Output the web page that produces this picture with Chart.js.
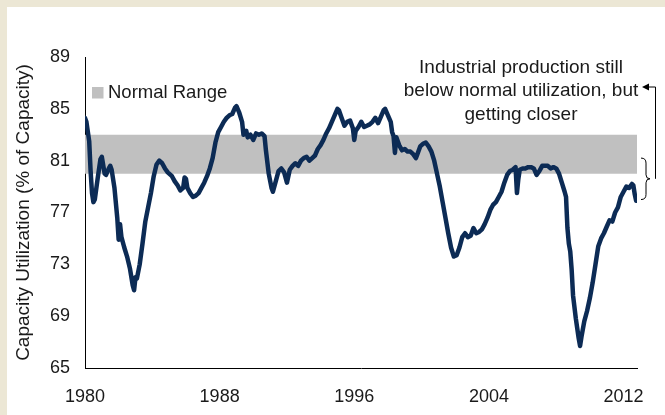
<!DOCTYPE html>
<html><head><meta charset="utf-8">
<script src="https://cdn.jsdelivr.net/npm/chart.js@4"></script>
<style>html,body{margin:0;padding:0;background:#fff;}canvas{display:block;}</style>
</head><body>
<canvas id="c" width="665" height="415"></canvas>
<script>
// ---- Data ----
const periods = [
 '1980-01','1980-02','1980-04','1980-05','1980-06','1980-07','1980-08','1980-10','1980-12',
 '1981-01','1981-03','1981-04','1981-06','1981-07','1981-08','1981-10','1981-12',
 '1982-01','1982-02','1982-03','1982-05','1982-07','1982-09','1982-11','1982-12',
 '1983-01','1983-02','1983-04','1983-06','1983-08','1983-10','1983-12',
 '1984-02','1984-04','1984-06','1984-08','1984-10','1984-12',
 '1985-03','1985-05','1985-07','1985-09','1985-11','1985-12',
 '1986-01','1986-02','1986-04','1986-06','1986-08','1986-10','1986-12',
 '1987-02','1987-04','1987-06','1987-08','1987-10','1987-12',
 '1988-02','1988-04','1988-06','1988-08','1988-10','1988-12',
 '1989-01','1989-03','1989-05','1989-06','1989-08','1989-09','1989-11',
 '1990-01','1990-03','1990-05','1990-07','1990-09','1990-10','1990-12',
 '1991-02','1991-03','1991-05','1991-07','1991-09','1991-11',
 '1992-01','1992-03','1992-05','1992-07','1992-09','1992-11',
 '1993-01','1993-03','1993-05','1993-07','1993-09','1993-11',
 '1994-01','1994-03','1994-05','1994-07','1994-09','1994-11',
 '1995-01','1995-02','1995-04','1995-06','1995-08','1995-10','1995-12',
 '1996-01','1996-02','1996-04','1996-06','1996-08','1996-10','1996-12',
 '1997-02','1997-04','1997-06','1997-08','1997-10','1997-11',
 '1998-01','1998-03','1998-04','1998-05','1998-06','1998-07','1998-09','1998-11',
 '1999-01','1999-03','1999-05','1999-07','1999-09','1999-10','1999-12',
 '2000-02','2000-04','2000-06','2000-08','2000-10','2000-12',
 '2001-02','2001-04','2001-06','2001-08','2001-10','2001-12',
 '2002-02','2002-04','2002-06','2002-08','2002-10','2002-12',
 '2003-02','2003-04','2003-06','2003-08','2003-10','2003-12',
 '2004-02','2004-04','2004-06','2004-08','2004-10','2004-12',
 '2005-02','2005-04','2005-06','2005-08','2005-09','2005-10','2005-11',
 '2006-01','2006-03','2006-05','2006-07','2006-09','2006-11',
 '2007-01','2007-03','2007-05','2007-07','2007-09','2007-11',
 '2008-01','2008-03','2008-05','2008-07','2008-08','2008-09','2008-10','2008-11','2008-12',
 '2009-01','2009-03','2009-05','2009-06','2009-07','2009-09','2009-11',
 '2010-01','2010-03','2010-05','2010-07','2010-09','2010-11',
 '2011-01','2011-03','2011-05','2011-07','2011-09','2011-11',
 '2012-01','2012-03','2012-05','2012-07','2012-08','2012-09','2012-10'
];
const utilization = [
 84.3,84.0,82.5,80.2,78.5,77.8,78.0,79.6,81.1,
 81.3,80.0,79.9,80.4,80.6,80.3,78.9,76.6,
 74.9,76.1,75.1,74.3,73.6,72.7,71.4,71.0,
 72.0,71.9,73.0,74.6,76.3,77.4,78.5,
 79.8,80.7,81.0,80.8,80.4,80.1,
 79.8,79.4,79.1,78.7,78.9,79.7,
 79.6,78.9,78.5,78.2,78.3,78.5,78.9,
 79.3,79.8,80.4,81.2,82.4,83.2,
 83.6,84.0,84.3,84.5,84.6,85.1,
 85.2,84.7,84.0,83.0,83.3,82.8,83.0,
 82.6,83.1,83.0,83.1,82.9,81.8,80.0,
 78.9,78.6,79.4,80.2,80.4,80.1,
 79.3,80.3,80.6,80.8,80.6,81.0,
 81.2,81.3,81.0,81.2,81.4,81.9,
 82.2,82.6,83.1,83.5,84.0,84.5,
 85.0,84.9,84.3,83.7,84.0,84.1,83.5,
 82.6,83.3,83.6,84.0,83.6,83.7,83.8,
 84.0,84.3,83.9,84.4,84.9,85.0,
 84.5,84.0,83.2,82.9,81.6,82.8,82.2,81.8,
 81.9,81.7,81.7,81.5,81.2,81.5,82.1,
 82.3,82.4,82.1,81.7,81.0,80.0,
 79.0,77.8,76.6,75.4,74.3,73.6,
 73.7,74.3,75.1,75.4,75.1,75.2,
 75.8,75.4,75.5,75.7,76.1,76.6,
 77.2,77.6,77.8,78.2,78.6,79.3,
 79.9,80.2,80.3,80.5,78.5,79.6,80.3,
 80.4,80.4,80.5,80.5,80.4,79.9,
 80.2,80.6,80.6,80.6,80.4,80.5,
 80.4,80.0,79.3,78.6,78.2,75.8,74.6,74.0,72.6,
 70.6,68.8,67.3,66.7,67.4,68.6,69.4,
 70.4,71.6,73.0,74.4,75.0,75.4,
 75.9,76.4,76.3,77.0,77.4,78.2,
 78.6,79.0,78.9,79.2,79.1,78.4,77.9
];
const xTickValues = [1980, 1988, 1996, 2004, 2012];
const yTickValues = [65, 69, 73, 77, 81, 85, 89];
const xRange = [1980, 2012.8];
const yRange = [65, 89];
const normalRange = [80, 83];
const bracketRange = [81.2, 78.0];
const legendLabel = 'Normal Range';
const yAxisTitle = 'Capacity Utilization (% of Capacity)';
const annotationLines = ['Industrial production still', 'below normal utilization, but', 'getting closer'];

// ---- Styles ----
const FONT = '"Liberation Sans", Arial, Helvetica, sans-serif';
const lineColor = '#0c2b55';
const bandColor = '#c0c0c0';
const textColor = '#1a1a1a';
const frameColor = '#ece7d5';

const points = periods.map((p, i) => {
  const [yr, mo] = p.split('-').map(Number);
  return { x: yr + (mo - 1) / 12, y: utilization[i] };
});

const bgPlugin = {
  id: 'bg',
  beforeDraw(chart) {
    const ctx = chart.ctx;
    ctx.save();
    ctx.fillStyle = '#ffffff';
    ctx.fillRect(0, 0, chart.width, chart.height);
    ctx.fillStyle = frameColor;
    ctx.fillRect(0, 0, chart.width, 7);
    ctx.fillRect(0, 0, 7, chart.height);
    ctx.restore();
  }
};

const annotPlugin = {
  id: 'annot',
  afterDraw(chart) {
    const ctx = chart.ctx;
    const area = chart.chartArea;
    const ys = chart.scales.y;
    ctx.save();
    // legend
    ctx.fillStyle = bandColor;
    ctx.fillRect(area.left + 7, area.top + 30, 11.5, 11.5);
    ctx.fillStyle = textColor;
    ctx.font = '18.5px ' + FONT;
    ctx.textAlign = 'left';
    ctx.textBaseline = 'alphabetic';
    ctx.fillText(legendLabel, area.left + 23, area.top + 40.5);
    // annotation text
    ctx.font = '19px ' + FONT;
    ctx.textAlign = 'center';
    const cx = area.right - 116;
    annotationLines.forEach((t, i) => ctx.fillText(t, cx, area.top + 15.5 + i * 23.6));
    // brace
    const yTop = ys.getPixelForValue(bracketRange[0]);
    const yBot = ys.getPixelForValue(bracketRange[1]);
    const yMid = (yTop + yBot) / 2;
    const bx = area.right + 4;
    ctx.strokeStyle = '#000';
    ctx.lineWidth = 1;
    ctx.beginPath();
    ctx.moveTo(bx, yTop);
    ctx.quadraticCurveTo(bx + 5, yTop, bx + 5, yTop + 5);
    ctx.lineTo(bx + 5, yMid - 4);
    ctx.quadraticCurveTo(bx + 5, yMid, bx + 9, yMid);
    ctx.quadraticCurveTo(bx + 5, yMid, bx + 5, yMid + 4);
    ctx.lineTo(bx + 5, yBot - 5);
    ctx.quadraticCurveTo(bx + 5, yBot, bx, yBot);
    ctx.stroke();
    // elbow connector with arrow
    const lx = area.right + 18.5;
    const ay = area.top + 30;
    ctx.beginPath();
    ctx.moveTo(lx, yMid);
    ctx.lineTo(lx, ay);
    ctx.lineTo(area.right + 11, ay);
    ctx.stroke();
    ctx.fillStyle = '#000';
    ctx.beginPath();
    ctx.moveTo(area.right + 5, ay);
    ctx.lineTo(area.right + 12, ay - 3.5);
    ctx.lineTo(area.right + 12, ay + 3.5);
    ctx.closePath();
    ctx.fill();
    ctx.restore();
  }
};

new Chart(document.getElementById('c'), {
  type: 'line',
  data: {
    datasets: [
      {
        label: 'Capacity Utilization',
        data: points,
        borderColor: lineColor,
        borderWidth: 4.5,
        pointRadius: 0,
        tension: 0,
        fill: false,
        borderJoinStyle: 'round',
        borderCapStyle: 'round'
      },
      {
        label: 'Normal Range low',
        data: xRange.map(x => ({ x, y: normalRange[0] })),
        borderColor: 'rgba(0,0,0,0)',
        borderWidth: 1,
        pointRadius: 0,
        fill: false
      },
      {
        label: legendLabel,
        data: xRange.map(x => ({ x, y: normalRange[1] })),
        borderColor: 'rgba(0,0,0,0)',
        borderWidth: 1,
        pointRadius: 0,
        backgroundColor: bandColor,
        fill: '-1'
      }
    ]
  },
  options: {
    responsive: false,
    animation: false,
    devicePixelRatio: 1,
    layout: { padding: { left: 0, top: 57, right: 28, bottom: 0 } },
    plugins: { legend: { display: false }, tooltip: { enabled: false } },
    scales: {
      x: {
        type: 'linear',
        min: xRange[0], max: xRange[1],
        grid: { display: false, drawTicks: false },
        border: { display: true, color: '#000', width: 1 },
        afterBuildTicks: s => { s.ticks = xTickValues.map(v => ({ value: v })); },
        afterFit: s => { s.height = 47; },
        ticks: {
          autoSkip: false, maxRotation: 0, padding: 18,
          color: textColor, font: { family: FONT, size: 18 },
          callback: v => String(v)
        }
      },
      y: {
        type: 'linear',
        min: yRange[0], max: yRange[1],
        grid: { display: false, drawTicks: false },
        border: { display: true, color: '#000', width: 1 },
        afterBuildTicks: s => { s.ticks = yTickValues.map(v => ({ value: v })); },
        afterFit: s => { s.width = 85; },
        ticks: {
          autoSkip: false, padding: 15,
          color: textColor, font: { family: FONT, size: 18 },
          callback: v => String(v)
        },
        title: {
          display: true, text: yAxisTitle, color: textColor,
          font: { family: FONT, size: 19 }, padding: { top: 12, bottom: 0 }
        }
      }
    }
  },
  plugins: [bgPlugin, annotPlugin]
});
</script>
</body></html>
